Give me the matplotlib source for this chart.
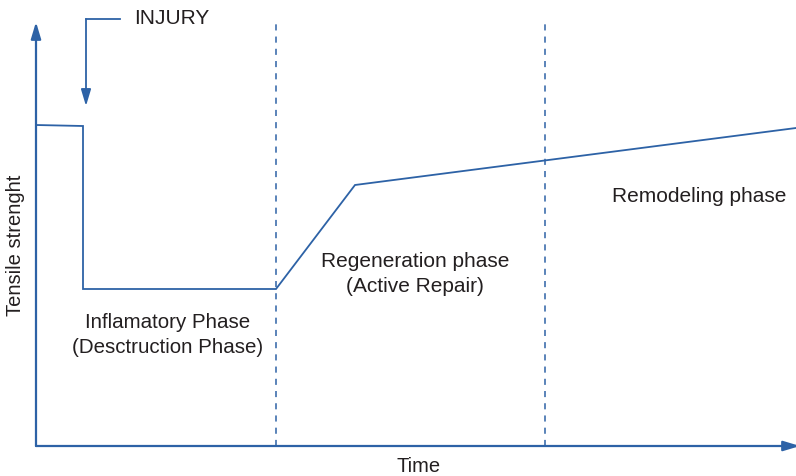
import matplotlib.pyplot as plt

plt.rcParams['font.family'] = ['Liberation Sans', 'DejaVu Sans']

blue = '#2d62a6'
ink = '#231f20'

# tensile strength curve (time, strength)
time = [0, 47, 47, 240, 319, 760]
strength = [321, 320, 157, 157, 261, 318]

# phase boundaries
phase_bounds = [240, 509]

fig = plt.figure(figsize=(7.96, 4.76), dpi=100)
ax = fig.add_axes([0, 0, 1, 1])
ax.set_xlim(-36, 760)
ax.set_ylim(-30, 446)
ax.axis('off')

head = '-|>,head_length=0.5,head_width=0.15'

# axes with arrow heads
ax.annotate('', xy=(0, 424), xytext=(0, 0), annotation_clip=False,
            arrowprops=dict(arrowstyle=head, color=blue, lw=1.6, mutation_scale=20, shrinkA=0, shrinkB=0))
ax.annotate('', xy=(764, 0), xytext=(0, 0), annotation_clip=False,
            arrowprops=dict(arrowstyle=head, color=blue, lw=1.6, mutation_scale=20, shrinkA=0, shrinkB=0))

for xb in phase_bounds:
    ax.plot([xb, xb], [0, 426], color=blue, lw=1.1, ls=(0, (4, 4)))

ax.plot(time, strength, color=blue, lw=1.3, solid_joinstyle='miter')

# injury marker
ax.plot([84, 50], [427, 427], color=blue, lw=1.3)
ax.annotate('', xy=(50, 340), xytext=(50, 427),
            arrowprops=dict(arrowstyle=head, color=blue, lw=1.3, mutation_scale=20, shrinkA=0, shrinkB=0))
ax.text(98, 427, 'INJURY', fontsize=15, color=ink, va='center', ha='left')

ax.text(-20, 201, 'Tensile strenght', rotation=90, fontsize=14.5, color=ink, ha='center', va='center')
ax.text(383, -21, 'Time', fontsize=14.5, color=ink, ha='center', va='center')

ax.text(132, 111, 'Inflamatory Phase\n(Desctruction Phase)', fontsize=14.8, color=ink,
        ha='center', va='center', linespacing=1.45)
ax.text(379, 172, 'Regeneration phase\n(Active Repair)', fontsize=15, color=ink,
        ha='center', va='center', linespacing=1.45)
ax.text(663, 250, 'Remodeling phase', fontsize=15, color=ink, ha='center', va='center')

fig.savefig('out.png', dpi=100)
